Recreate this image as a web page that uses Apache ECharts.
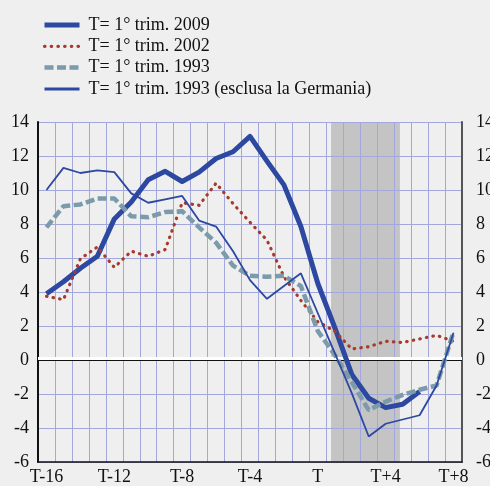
<!DOCTYPE html>
<html>
<head>
<meta charset="utf-8">
<script src="https://cdn.jsdelivr.net/npm/echarts@6/dist/echarts.min.js"></script>
<style>
html,body{margin:0;padding:0;background:#efefef;overflow:hidden;}
#main{width:490px;height:486px;}
</style>
</head>
<body>
<div id="main"></div>
<script type="text/javascript">
// trimestri attorno al punto T
var categories = ['T-16','T-15','T-14','T-13','T-12','T-11','T-10','T-9','T-8','T-7','T-6','T-5','T-4','T-3','T-2','T-1',
                  'T','T+1','T+2','T+3','T+4','T+5','T+6','T+7','T+8'];

var names = ['T= 1° trim. 2009', 'T= 1° trim. 2002', 'T= 1° trim. 1993', 'T= 1° trim. 1993 (esclusa la Germania)'];

var s2009 = [3.9, 4.6, 5.4, 6.1, 8.3, 9.3, 10.6, 11.1, 10.5, 11.05, 11.85, 12.25, 13.15, 11.7, 10.3, 7.85,
             4.5, 1.9, -0.85, -2.25, -2.8, -2.6, -1.85, null, null];
var s2002 = [3.75, 3.55, 5.95, 6.65, 5.45, 6.4, 6.1, 6.5, 9.25, 9.1, 10.4, 9.2, 8.1, 7.05, 4.9, 3.5,
             2.25, 1.7, 0.65, 0.78, 1.1, 1.03, 1.24, 1.45, 1.1];
var s1993 = [7.8, 9.05, 9.15, 9.5, 9.5, 8.45, 8.4, 8.7, 8.75, 7.8, 6.9, 5.55, 4.95, 4.9, 4.95, 4.35,
             1.7, 0.3, -1.3, -2.95, -2.45, -2.05, -1.75, -1.5, 1.65];
var s1993x = [10.0, 11.3, 11.0, 11.15, 11.05, 9.8, 9.25, 9.45, 9.65, 8.2, 7.85, 6.4, 4.7, 3.6, 4.35, 5.1,
              2.75, 0.4, -1.95, -4.5, -3.75, -3.5, -3.25, -1.5, 1.6];

// fascia grigia (in unita' di trimestre, da bordo sinistro)
var shadeRange = [17.28, 21.34];
var yMin = -6, yMax = 14, yStep = 2;

var font = 'Liberation Serif';
var gridColor = '#a3a8dc';
var blue = '#2c48a0';

var yAxisBase = {
    type: 'value', min: yMin, max: yMax, interval: yStep,
    axisTick: {show: false},
    axisLabel: {fontFamily: font, fontSize: 18, color: '#111'}
};

var option = {
    animation: false,
    backgroundColor: '#efefef',
    grid: {left: 38, right: 28, top: 122, bottom: 24, outerBoundsMode: 'none', containLabel: false},
    legend: {
        orient: 'vertical',
        left: 37, top: 11,
        itemWidth: 35, itemHeight: 14, itemGap: 3.3,
        itemStyle: {opacity: 0},
        lineStyle: {width: 'inherit'},
        textStyle: {fontFamily: font, fontSize: 18, color: '#111', padding: [0, 0, 0, 4]},
        data: [
            {name: names[0]},
            {name: names[1]},
            {name: names[2]},
            {name: names[3], lineStyle: {width: 3}}
        ]
    },
    xAxis: [{
        type: 'category',
        data: categories,
        boundaryGap: true,
        axisLine: {onZero: false, lineStyle: {color: '#111', width: 1.5}},
        axisTick: {interval: 0, length: 5, lineStyle: {color: '#111', width: 1.5}},
        axisLabel: {interval: 3, margin: 6, fontFamily: font, fontSize: 18, color: '#111'},
        splitLine: {show: true, interval: 0, lineStyle: {color: gridColor, width: 1}}
    }, {
        type: 'value', min: 0, max: categories.length, show: false
    }],
    yAxis: [
        Object.assign({}, yAxisBase, {
            position: 'left',
            axisLine: {show: true, lineStyle: {color: '#111', width: 2}},
            axisLabel: Object.assign({}, yAxisBase.axisLabel, {margin: 9}),
            splitLine: {show: true, lineStyle: {color: gridColor, width: 1}}
        }),
        Object.assign({}, yAxisBase, {
            position: 'right',
            axisLine: {show: true, lineStyle: {color: '#555', width: 2}},
            axisLabel: Object.assign({}, yAxisBase.axisLabel, {margin: 14}),
            splitLine: {show: false}
        })
    ],
    series: [
        {
            name: 'shade', type: 'line', xAxisIndex: 1, yAxisIndex: 0, data: [],
            markArea: {
                silent: true, z: -1,
                itemStyle: {color: '#c4c4c4'},
                data: [[{xAxis: shadeRange[0]}, {xAxis: shadeRange[1]}]]
            }
        },
        {
            name: 'zero', type: 'line', data: [],
            markLine: {
                silent: true, z: 1, symbol: 'none', label: {show: false},
                data: [
                    {yAxis: 0.08, lineStyle: {color: '#ffffff', width: 3, type: 'solid'}},
                    {yAxis: -0.03, lineStyle: {color: '#111', width: 1.2, type: 'solid'}}
                ]
            }
        },
        {
            name: names[0], type: 'line', data: s2009, symbol: 'none', color: blue,
            lineStyle: {color: blue, width: 5, join: 'round'}
        },
        {
            name: names[1], type: 'line', data: s2002, symbol: 'none', color: '#a63a2c',
            lineStyle: {color: '#a63a2c', width: 3.2, type: [0.5, 6.2], cap: 'round'}
        },
        {
            name: names[2], type: 'line', data: s1993, symbol: 'none', color: '#7b9aaa',
            lineStyle: {color: '#7b9aaa', width: 4.5, type: [9, 3.5]}
        },
        {
            name: names[3], type: 'line', data: s1993x, symbol: 'none', color: blue,
            lineStyle: {color: blue, width: 1.8}
        }
    ]
};

echarts.init(document.getElementById('main')).setOption(option);
</script>
</body>
</html>
